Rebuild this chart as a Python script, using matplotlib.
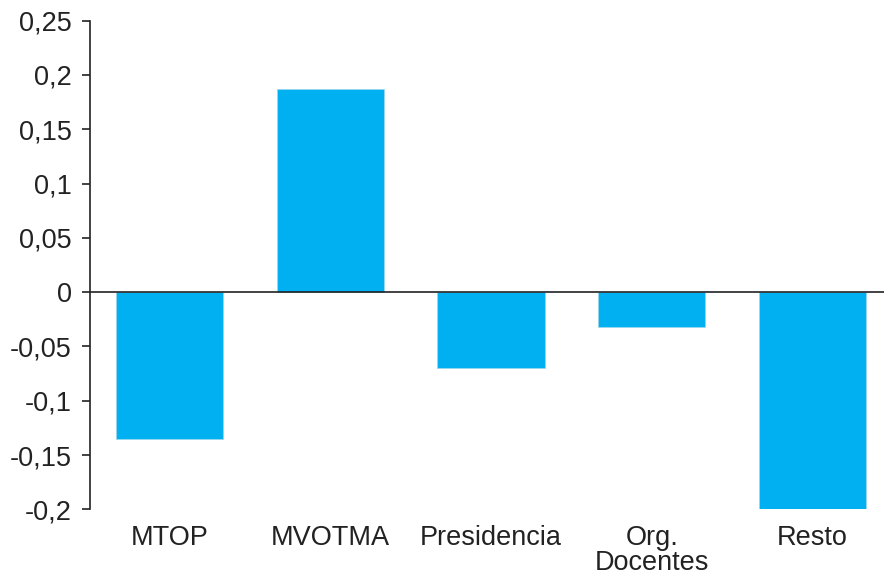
import matplotlib
matplotlib.use("Agg")
import matplotlib.pyplot as plt
from matplotlib.ticker import FuncFormatter

categories = ["MTOP", "MVOTMA", "Presidencia", "Org.\nDocentes", "Resto"]
values = [-0.1355, 0.1875, -0.0695, -0.032, -0.2]
yticks = [-0.2, -0.15, -0.1, -0.05, 0, 0.05, 0.1, 0.15, 0.2, 0.25]

plt.rcParams["font.family"] = ["Liberation Sans", "DejaVu Sans"]

fig = plt.figure(figsize=(8.84, 5.76), dpi=100)
ax = fig.add_axes([90 / 884, 1 - 509.3 / 576, 1 - 90 / 884, (509.3 - 20.7) / 576])

x = range(len(categories))
ax.bar(x, values, width=0.666, color="#00B0F0", edgecolor="#9ad6ee", linewidth=0.6, zorder=2)
ax.axhline(0, color="#222222", linewidth=1.2, zorder=3)

ax.set_xlim(-0.4946, 4.445)
ax.set_ylim(-0.2, 0.25)
ax.set_yticks(yticks)

def fmt(v, _):
    s = f"{v:.2f}".rstrip("0").rstrip(".")
    if s in ("-0", "0"):
        return "0"
    return s.replace(".", ",")

ax.yaxis.set_major_formatter(FuncFormatter(fmt))
ax.set_xticks(list(x))
ax.set_xticklabels(categories, linespacing=0.95, va="top")

for side in ("top", "right", "bottom"):
    ax.spines[side].set_visible(False)
ax.spines["left"].set_color("#222222")
ax.spines["left"].set_linewidth(1.2)

ax.tick_params(axis="y", length=6, width=1.2, color="#222222", labelsize=19.5, pad=7, labelcolor="#222222")
ax.tick_params(axis="x", length=0, labelsize=19.5, pad=11, labelcolor="#222222")

fig.savefig("out.png", dpi=100, facecolor="white")
